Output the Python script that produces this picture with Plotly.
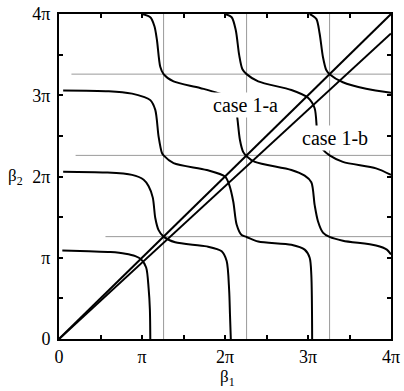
import plotly.graph_objects as go

# all values in units of pi
tick_vals = [0, 0.5, 1, 1.5, 2, 2.5, 3, 3.5, 4]
tick_text = ["0", "", "π", "", "2π", "", "3π", "", "4π"]

grid_pos = [1.26, 2.26, 3.26]
grid_h_start = [0.56, 0.2, 0.15]

case_1a_b1 = [0, 4]
case_1a_b2 = [0, 4]
case_1b_b1 = [0, 4]
case_1b_b2 = [0, 3.76]

curve_a_b1 = [0.04, 0.36, 0.62, 0.80, 0.92, 0.99, 1.05, 1.08, 1.095, 1.10]
curve_a_b2 = [1.09, 1.08, 1.07, 1.05, 1.02, 0.98, 0.88, 0.62, 0.36, 0.0]

curve_b_b1 = [0.05, 0.56, 0.88, 1.02, 1.08, 1.13, 1.16, 1.20, 1.26, 1.40, 1.78, 1.96, 2.02, 2.05, 2.06, 2.07]
curve_b_b2 = [2.06, 2.05, 2.02, 1.96, 1.88, 1.74, 1.49, 1.34, 1.26, 1.19, 1.14, 1.08, 0.96, 0.60, 0.30, 0.0]

curve_c_b1 = [0.05, 0.6, 0.88, 1.02, 1.10, 1.16, 1.20, 1.24, 1.26, 1.38, 1.78, 2.0, 2.05, 2.10,
              2.14, 2.20, 2.26, 2.40, 2.80, 2.96, 3.02, 3.04, 3.05]
curve_c_b2 = [3.06, 3.05, 3.02, 2.98, 2.94, 2.82, 2.49, 2.29, 2.26, 2.165, 2.08, 2.0, 1.90, 1.69,
              1.41, 1.28, 1.256, 1.20, 1.16, 1.10, 1.0, 0.79, 0.0]

curve_d_b1 = [1.0, 1.10, 1.15, 1.18, 1.22, 1.26, 1.38, 1.70, 2.02, 2.10, 2.14, 2.18, 2.22, 2.26,
              2.36, 2.80, 2.96, 3.04, 3.08, 3.12, 3.18, 3.26, 3.42, 3.82, 3.95, 4.0]
curve_d_b2 = [4.0, 3.96, 3.85, 3.68, 3.35, 3.26, 3.17, 3.09, 2.99, 2.93, 2.78, 2.45, 2.30, 2.25,
              2.18, 2.08, 2.01, 1.93, 1.65, 1.45, 1.31, 1.256, 1.21, 1.15, 1.10, 1.04]

curve_e_b1 = [2.0, 2.08, 2.13, 2.17, 2.21, 2.26, 2.40, 2.80, 3.0, 3.08, 3.11, 3.14, 3.18, 3.26, 3.42, 3.82, 4.0]
curve_e_b2 = [4.0, 3.96, 3.80, 3.50, 3.32, 3.26, 3.17, 3.065, 2.97, 2.84, 2.55, 2.40, 2.33, 2.26, 2.18, 2.10, 2.02]

curve_f_b1 = [3.02, 3.10, 3.14, 3.18, 3.22, 3.26, 3.42, 3.70, 4.0]
curve_f_b2 = [4.0, 3.94, 3.76, 3.47, 3.31, 3.26, 3.16, 3.08, 3.03]

curves = [
    (curve_a_b1, curve_a_b2),
    (curve_b_b1, curve_b_b2),
    (curve_c_b1, curve_c_b2),
    (curve_d_b1, curve_d_b2),
    (curve_e_b1, curve_e_b2),
    (curve_f_b1, curve_f_b2),
]

FONT = "Liberation Serif"
fig = go.Figure()

# thin grey guide lines
for g, s in zip(grid_pos, grid_h_start):
    fig.add_trace(go.Scatter(x=[g, g], y=[0, 4], mode="lines",
                             line=dict(color="#9a9a9a", width=1), hoverinfo="skip"))
    fig.add_trace(go.Scatter(x=[s, 4], y=[g, g], mode="lines",
                             line=dict(color="#9a9a9a", width=1), hoverinfo="skip"))

for b1, b2 in curves:
    fig.add_trace(go.Scatter(x=b1, y=b2, mode="lines",
                             line=dict(color="black", width=2, shape="spline", smoothing=0.8)))

fig.add_trace(go.Scatter(x=case_1a_b1, y=case_1a_b2, mode="lines", line=dict(color="black", width=2)))
fig.add_trace(go.Scatter(x=case_1b_b1, y=case_1b_b2, mode="lines", line=dict(color="black", width=2)))

axis = dict(range=[0, 4], tickvals=tick_vals, ticktext=tick_text, ticks="inside",
            ticklen=4, tickwidth=1.5, tickcolor="black", showline=True, linewidth=2,
            linecolor="black", mirror="ticks", showgrid=False, zeroline=False,
            automargin=False, ticklabeloverflow="allow",
            tickfont=dict(family=FONT, size=18, color="black"))

fig.update_layout(
    width=404, height=391,
    margin=dict(l=58.5, r=12.5, t=14, b=51.5),
    plot_bgcolor="white", paper_bgcolor="white",
    showlegend=False,
    xaxis=dict(axis, ticklabelstandoff=0),
    yaxis=dict(axis, ticklabelstandoff=3),
    annotations=[
        dict(x=2.25, y=2.88, text="case 1-a", showarrow=False, bgcolor="white",
             font=dict(family=FONT, size=20, color="black")),
        dict(x=3.32, y=2.475, text="case 1-b", showarrow=False, bgcolor="white",
             font=dict(family=FONT, size=20, color="black")),
        dict(x=2.03, y=-0.16, xref="x", yref="paper", text="β<sub>1</sub>", showarrow=False,
             font=dict(family=FONT, size=17, color="black")),
        dict(x=-0.16, y=2.0, xref="paper", yref="y", text="β<sub>2</sub>", showarrow=False,
             font=dict(family=FONT, size=17, color="black")),
    ],
)

# drop the default 8px page margin so the figure fills the window
fig.write_html("out.html", config={"displayModeBar": False},
               post_script="document.body.style.margin='0';")
